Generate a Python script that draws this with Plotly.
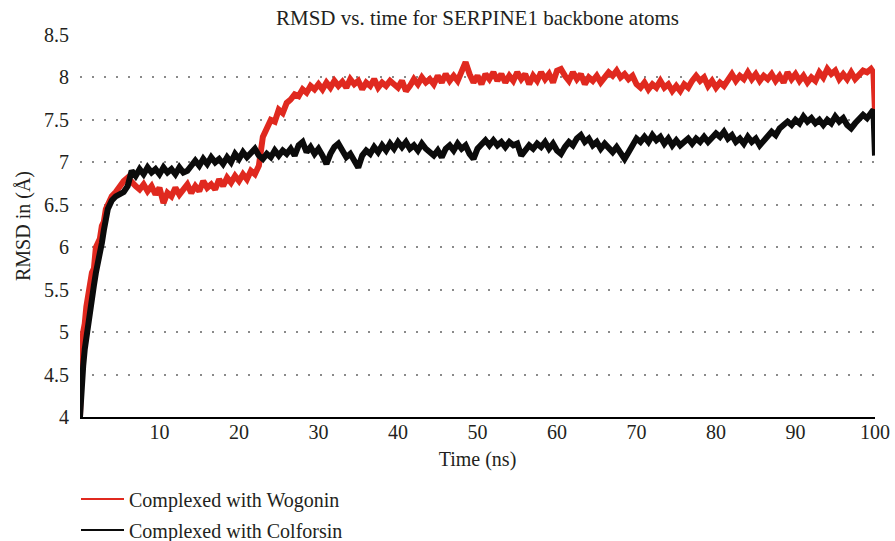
import plotly.graph_objects as go

# ---- data ----
time_early = [0, 0.1, 0.2, 0.4, 0.6, 0.8, 1.0, 1.25, 1.5, 1.75, 2.0, 2.25, 2.5,
              2.75, 3.0, 3.25, 3.5, 3.75, 4.0, 4.5, 5.0]
time_regular = [5.5 + 0.5 * i for i in range(189)]  # 5.5 ... 99.5 ns
time_end = [99.8, 100]
time_ns = time_early + time_regular + time_end

wogonin_early = [4.0, 4.65, 4.75, 5.0, 5.1, 5.3, 5.45, 5.55, 5.7, 5.75, 6.0, 6.05, 6.1,
                 6.25, 6.3, 6.45, 6.5, 6.55, 6.6, 6.65, 6.72]
wogonin_main = [
    6.78, 6.82, 6.76, 6.72, 6.68, 6.74, 6.66, 6.72, 6.62, 6.70,
    6.52, 6.64, 6.60, 6.70, 6.62, 6.68, 6.74, 6.64, 6.72, 6.66,
    6.78, 6.70, 6.74, 6.68, 6.80, 6.72, 6.82, 6.76, 6.84, 6.78,
    6.86, 6.80, 6.90, 6.86, 6.96, 7.30, 7.42, 7.50, 7.48, 7.62,
    7.58, 7.70, 7.74, 7.80, 7.78, 7.86, 7.82, 7.90, 7.86, 7.92,
    7.86, 7.94, 7.88, 7.96, 7.90, 7.95, 7.88, 7.98, 7.92, 7.96,
    7.86, 7.94, 7.90, 7.98, 7.88, 7.94, 7.90, 7.96, 7.92, 7.88,
    7.96, 7.84, 7.90, 7.98, 7.92, 8.00, 7.94, 7.98, 7.92, 8.02,
    7.94, 8.04, 7.96, 8.02, 7.96, 8.06, 8.18, 8.04, 7.94, 8.02,
    7.92, 8.04, 7.98, 8.06, 7.96, 8.04, 7.94, 8.02, 7.96, 8.06,
    7.98, 8.04, 7.92, 8.02, 7.96, 8.06, 7.98, 8.04, 7.94, 8.08,
    8.10, 8.02, 7.96, 8.06, 7.98, 8.04, 7.92, 8.00, 7.96, 8.02,
    7.94, 8.00, 8.06, 8.02, 8.08, 8.00, 8.04, 7.98, 8.02, 7.92,
    7.88, 7.94, 7.86, 7.92, 7.88, 7.96, 7.88, 7.92, 7.84, 7.90,
    7.84, 7.92, 7.88, 7.96, 8.02, 7.96, 8.00, 7.90, 7.96, 7.88,
    7.94, 7.90, 7.98, 8.04, 7.96, 8.02, 7.98, 8.06, 7.98, 8.04,
    7.96, 8.02, 7.98, 8.04, 7.96, 8.02, 7.94, 8.06, 7.98, 8.04,
    7.96, 8.02, 7.94, 8.00, 7.96, 8.06, 8.00, 8.10, 8.04, 8.08,
    7.98, 8.04, 7.98, 8.06, 7.98, 8.04, 8.08, 8.06, 8.10,
]
wogonin_end = [8.06, 7.60]
rmsd_wogonin = wogonin_early + wogonin_main + wogonin_end

colforsin_early = [4.0, 4.2, 4.4, 4.6, 4.8, 4.95, 5.05, 5.3, 5.42, 5.55, 5.7, 5.8, 5.95,
                   6.05, 6.2, 6.35, 6.45, 6.5, 6.55, 6.6, 6.62]
colforsin_main = [
    6.65, 6.72, 6.90, 6.84, 6.92, 6.86, 6.94, 6.88, 6.92, 6.86,
    6.94, 6.88, 6.92, 6.86, 6.94, 6.88, 6.90, 6.96, 7.02, 6.96,
    7.04, 6.98, 7.06, 7.00, 7.04, 6.98, 7.06, 7.00, 7.10, 7.04,
    7.12, 7.06, 7.10, 7.16, 7.08, 7.04, 7.10, 7.06, 7.14, 7.08,
    7.14, 7.10, 7.16, 7.08, 7.20, 7.24, 7.12, 7.18, 7.10, 7.16,
    7.08, 6.98, 7.10, 7.18, 7.22, 7.12, 7.06, 7.10, 7.00, 6.94,
    7.08, 7.14, 7.10, 7.18, 7.12, 7.20, 7.14, 7.22, 7.16, 7.24,
    7.18, 7.24, 7.16, 7.20, 7.14, 7.22, 7.16, 7.12, 7.08, 7.14,
    7.06, 7.16, 7.20, 7.14, 7.22, 7.16, 7.20, 7.10, 7.04, 7.16,
    7.22, 7.26, 7.20, 7.26, 7.20, 7.24, 7.18, 7.24, 7.20, 7.22,
    7.08, 7.14, 7.20, 7.16, 7.22, 7.18, 7.24, 7.16, 7.22, 7.14,
    7.10, 7.18, 7.24, 7.20, 7.28, 7.32, 7.24, 7.28, 7.20, 7.24,
    7.16, 7.22, 7.16, 7.12, 7.18, 7.10, 7.04, 7.12, 7.22, 7.28,
    7.24, 7.30, 7.24, 7.32, 7.26, 7.30, 7.22, 7.28, 7.20, 7.26,
    7.20, 7.24, 7.28, 7.22, 7.28, 7.24, 7.30, 7.24, 7.30, 7.34,
    7.30, 7.36, 7.28, 7.32, 7.24, 7.28, 7.22, 7.30, 7.24, 7.28,
    7.20, 7.26, 7.32, 7.36, 7.32, 7.40, 7.44, 7.48, 7.44, 7.50,
    7.46, 7.54, 7.48, 7.52, 7.46, 7.50, 7.44, 7.50, 7.46, 7.54,
    7.48, 7.52, 7.44, 7.40, 7.46, 7.52, 7.56, 7.52, 7.60,
]
colforsin_end = [7.62, 7.08]
rmsd_colforsin = colforsin_early + colforsin_main + colforsin_end

x_ticks = [10, 20, 30, 40, 50, 60, 70, 80, 90, 100]
y_ticks = [4, 4.5, 5, 5.5, 6, 6.5, 7, 7.5, 8, 8.5]

series_names = ["Complexed with Wogonin", "Complexed with Colforsin"]
series_colors = ["#e0291f", "#0b0b0b"]

assert len(time_ns) == len(rmsd_wogonin) == len(rmsd_colforsin)

FONT = "Liberation Serif"
FS = 20
TXT = "#231f20"

fig = go.Figure()
for yv, name, col in [(rmsd_wogonin, series_names[0], series_colors[0]),
                      (rmsd_colforsin, series_names[1], series_colors[1])]:
    fig.add_trace(go.Scatter(x=time_ns, y=yv, mode="lines", name=name,
                             line=dict(color=col, width=6), showlegend=False,
                             hoverinfo="skip"))

# legend entries (thin sample lines)
fig.add_trace(go.Scatter(x=[None], y=[None], mode="lines", name=series_names[0],
                         line=dict(color=series_colors[0], width=2), legend="legend"))
fig.add_trace(go.Scatter(x=[None], y=[None], mode="lines", name=series_names[1],
                         line=dict(color=series_colors[1], width=2), legend="legend2"))

W, H = 895, 541
L, R, T, B = 80, 20, 35, 124
PW, PH = W - L - R, H - T - B

leg_common = dict(font=dict(family=FONT, size=FS, color=TXT), bgcolor="rgba(0,0,0,0)",
                  xref="paper", yref="paper", xanchor="left", yanchor="middle",
                  itemwidth=43, tracegroupgap=0)

fig.update_layout(
    width=W, height=H,
    margin=dict(l=L, r=R, t=T, b=B, autoexpand=False),
    paper_bgcolor="white", plot_bgcolor="white",
    font=dict(family=FONT, size=FS, color=TXT),
    title=dict(text="RMSD vs. time for SERPINE1 backbone atoms",
               font=dict(family=FONT, size=21, color=TXT),
               x=(L + PW / 2) / W, xref="container", xanchor="center",
               y=1 - 18 / H, yref="container", yanchor="middle"),
    legend=dict(x=(76 - L) / PW, y=(H - B - 499) / PH, **leg_common),
    legend2=dict(x=(76 - L) / PW, y=(H - B - 530) / PH, **leg_common),
    xaxis=dict(range=[0, 100], tickvals=x_ticks, ticks="", showgrid=False,
               showline=True, linecolor="black", linewidth=2, zeroline=False,
               ticklabelstandoff=-4,
               tickfont=dict(family=FONT, size=FS, color=TXT),
               title=dict(text="Time (ns)", standoff=10,
                          font=dict(family=FONT, size=FS, color=TXT))),
    yaxis=dict(range=[4, 8.5], tickvals=y_ticks, ticks="", showline=False,
               zeroline=False, showgrid=True, gridcolor="#8a8a8a", gridwidth=1.5,
               griddash="2px,10px", ticklabelstandoff=10,
               tickfont=dict(family=FONT, size=FS, color=TXT),
               title=dict(text="RMSD in (Å)", standoff=8,
                          font=dict(family=FONT, size=FS, color=TXT))),
)

fig.write_html("out.html")
